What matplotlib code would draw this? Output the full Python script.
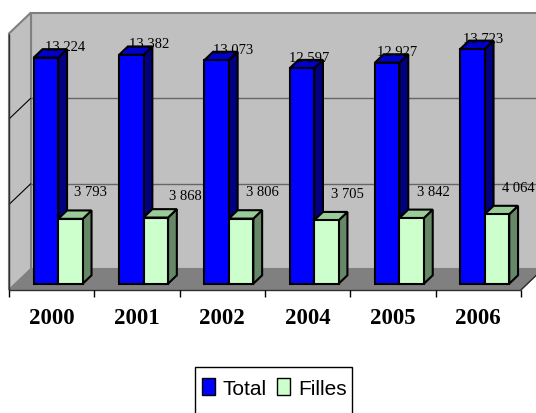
import matplotlib
matplotlib.use("Agg")
import matplotlib.pyplot as plt
from matplotlib.patches import Polygon, Patch, Rectangle

years = ['2000', '2001', '2002', '2004', '2005', '2006']
total = [13224, 13382, 13073, 12597, 12927, 13723]
filles = [3793, 3868, 3806, 3705, 3842, 4064]

# value label nudges in pixels (right, up) from the top of each front face
total_lbl_dx = [19, 18, 17, 7, 10, 11]
total_lbl_dy = [11, 11, 11, 11, 11, 11]
filles_lbl_dx = [20, 30, 21, 21, 22, 21]
filles_lbl_dy = [27, 22, 27, 27, 27, 27]

W, H = 536, 414
fig = plt.figure(figsize=(W / 100, H / 100), dpi=100)
ax = fig.add_axes([0, 0, 1, 1])

PX_X = 85.3      # pixels per category
PX_V = 0.0171    # pixels per unit of value
X0, Y0 = 9, 291  # front-left corner of the floor, pixels
ax.set_xlim(-X0 / PX_X, (W - X0) / PX_X)
ax.set_ylim(-(H - Y0) / PX_V, Y0 / PX_V)
ax.axis('off')

n = len(years)
VMAX = 15000
DEPTH = (22 / PX_X, 21 / PX_V)   # full floor depth, in data units
D0, D1 = 0.3, 0.7                # front and back of the bars
BW = 0.287                       # bar width in categories
PT = 0.72                        # points per pixel at 100 dpi


def at(x, v, d):
    return (x + d * DEPTH[0], v + d * DEPTH[1])


def face(pts, fc, ec, lw, z):
    ax.add_patch(Polygon([at(*p) for p in pts], closed=True, facecolor=fc,
                         edgecolor=ec, linewidth=lw, zorder=z,
                         joinstyle='miter'))


def seg(p, q, color, lw, z):
    a, b = at(*p), at(*q)
    ax.plot([a[0], b[0]], [a[1], b[1]], color=color, lw=lw, zorder=z,
            solid_capstyle='butt')


# walls and floor
face([(0, 0, 1), (n, 0, 1), (n, VMAX, 1), (0, VMAX, 1)], '#c0c0c0', '#808080', 1.5, 1)
face([(0, 0, 0), (0, 0, 1), (0, VMAX, 1), (0, VMAX, 0)], '#c0c0c0', '#808080', 1.5, 1)
face([(0, 0, 0), (n, 0, 0), (n, 0, 1), (0, 0, 1)], '#808080', '#808080', 1, 2)
seg((0, 0, 0), (0, VMAX, 0), '#303030', 1, 3)
seg((0, 0, 0), (n, 0, 0), '#303030', 1, 3)
seg((n, 0, 0), (n, 0, 1), '#303030', 1, 3)

for g in (5000, 10000):
    seg((0, g, 1), (n, g, 1), '#666666', 1, 2)
    seg((0, g, 0), (0, g, 1), 'black', 0.8, 2)

for k in range(n + 1):
    seg((k, 0, 0), (k, -7 / PX_V, 0), 'black', 1, 3)

series = [
    (total, ('#0000ff', '#0000c8', '#000080'), total_lbl_dx, total_lbl_dy),
    (filles, ('#ccffcc', '#99cc99', '#668866'), filles_lbl_dx, filles_lbl_dy),
]

z = 5
for i in range(n):
    for s, (vals, (c_front, c_top, c_side), ldx, ldy) in enumerate(series):
        v = vals[i]
        x0 = i + 0.5 - BW + s * BW
        x1 = x0 + BW
        face([(x1, 0, D0), (x1, v, D0), (x1, v, D1), (x1, 0, D1)], c_side, 'black', 1.5, z)
        face([(x0, v, D0), (x1, v, D0), (x1, v, D1), (x0, v, D1)], c_top, 'black', 1.5, z + 1)
        face([(x0, 0, D0), (x1, 0, D0), (x1, v, D0), (x0, v, D0)], c_front, 'black', 1.5, z + 2)
        z += 3
        ax.annotate(f"{v:,}".replace(',', ' '), xy=at(x0 + BW / 2, v, D0),
                    xytext=(ldx[i] * PT, ldy[i] * PT), textcoords='offset points',
                    ha='center', va='center', fontsize=10.5,
                    family='Liberation Serif', zorder=100)

for i, y in enumerate(years):
    ax.annotate(y, xy=(i + 0.5, 0), xytext=(0, -27 * PT), textcoords='offset points',
                ha='center', va='center', fontsize=16.5, fontweight='bold',
                family='Liberation Serif')

# legend box runs off the bottom edge of the figure
fig.patches.append(Rectangle((195 / W, -0.05), (352 - 195) / W, (414 - 368) / H + 0.05,
                             transform=fig.transFigure, facecolor='white',
                             edgecolor='black', linewidth=1, zorder=5))

handles = [Patch(facecolor='#0000ff', edgecolor='black'),
           Patch(facecolor='#ccffcc', edgecolor='black')]
fig.legend(handles, ['Total', 'Filles'], loc='center left',
           bbox_to_anchor=(202 / W, 1 - 389 / H), ncol=2, frameon=False,
           prop={'family': 'Liberation Sans', 'size': 15},
           handlelength=0.6, handleheight=0.85, handletextpad=0.4,
           columnspacing=0.5, borderpad=0, borderaxespad=0).set_zorder(6)

fig.savefig('out.png', dpi=100)
